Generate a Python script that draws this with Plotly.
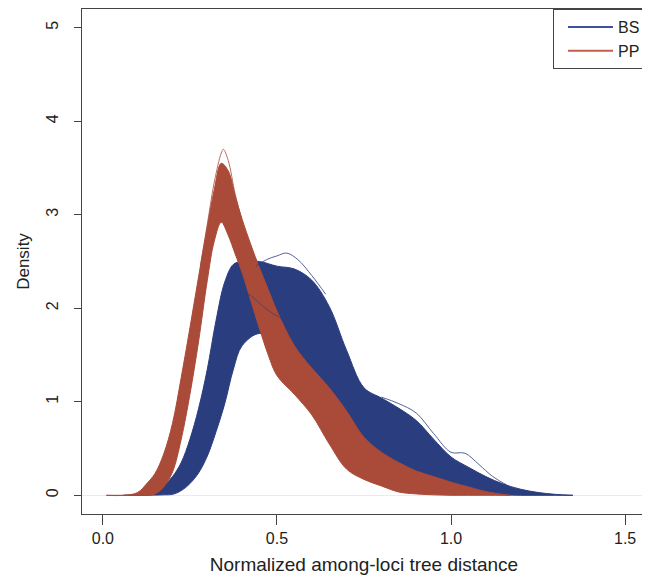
import plotly.graph_objects as go

# ---- data ----
# PP (posterior predictive) density band: lower / upper envelopes of the many curves
pp_x = [0.01, 0.06, 0.10, 0.126, 0.15, 0.175, 0.20, 0.225, 0.25, 0.275, 0.30, 0.32, 0.34,
        0.36, 0.38, 0.40, 0.425, 0.45, 0.475, 0.50, 0.55, 0.60, 0.65, 0.70, 0.75, 0.80,
        0.85, 0.90, 0.95, 1.00, 1.05, 1.10, 1.17]
pp_upper = [0.0, 0.0, 0.03, 0.125, 0.235, 0.445, 0.77, 1.26, 1.79, 2.34, 2.87, 3.27, 3.55,
            3.47, 3.2, 2.95, 2.68, 2.43, 2.2, 1.97, 1.6, 1.36, 1.15, 0.9, 0.62, 0.46,
            0.35, 0.26, 0.2, 0.14, 0.09, 0.04, 0.0]
pp_lower = [0.0, 0.0, 0.0, 0.0, 0.015, 0.09, 0.25, 0.6, 1.08, 1.65, 2.3, 2.72, 2.92,
            2.78, 2.58, 2.38, 2.08, 1.78, 1.5, 1.28, 1.08, 0.86, 0.55, 0.28, 0.17, 0.10,
            0.035, 0.015, 0.005, 0.0, 0.0, 0.0, 0.0]
# single PP curve that peaks above the band
pp_peak_x = [0.28, 0.30, 0.32, 0.34, 0.346, 0.36, 0.38, 0.40]
pp_peak_y = [2.45, 2.9, 3.35, 3.66, 3.70, 3.58, 3.22, 2.93]

# BS (bootstrap) density band
bs_x = [0.06, 0.12, 0.15, 0.175, 0.20, 0.225, 0.25, 0.275, 0.30, 0.325, 0.35, 0.375, 0.40,
        0.45, 0.50, 0.55, 0.60, 0.65, 0.70, 0.75, 0.80, 0.85, 0.90, 0.95, 1.00, 1.05,
        1.10, 1.15, 1.20, 1.25, 1.30, 1.35]
bs_upper = [0.0, 0.005, 0.02, 0.1, 0.2, 0.35, 0.6, 0.93, 1.35, 1.87, 2.28, 2.47, 2.5,
            2.5, 2.45, 2.42, 2.3, 2.02, 1.55, 1.15, 1.04, 0.93, 0.8, 0.6, 0.41, 0.3,
            0.2, 0.12, 0.065, 0.03, 0.01, 0.0]
bs_lower = [0.0, 0.0, 0.002, 0.005, 0.01, 0.05, 0.125, 0.24, 0.42, 0.68, 0.98, 1.35, 1.6,
            1.73, 1.62, 1.4, 1.1, 0.85, 0.6, 0.42, 0.3, 0.2, 0.13, 0.08, 0.05, 0.03,
            0.015, 0.005, 0.0, 0.0, 0.0, 0.0]
# individual BS curves standing out of the band
bs_peak_x = [0.44, 0.47, 0.50, 0.528, 0.56, 0.60, 0.64]
bs_peak_y = [2.45, 2.52, 2.56, 2.59, 2.52, 2.35, 2.15]
bs_bump_x = [0.80, 0.85, 0.90, 0.95, 1.00, 1.04, 1.08, 1.12, 1.16]
bs_bump_y = [1.05, 0.98, 0.88, 0.66, 0.46, 0.45, 0.33, 0.2, 0.11]
bs_cross_x = [0.40, 0.43, 0.46, 0.49, 0.52]
bs_cross_y = [2.2, 2.12, 2.02, 1.94, 1.88]

x_ticks = [0.0, 0.5, 1.0, 1.5]
x_tick_labels = ["0.0", "0.5", "1.0", "1.5"]
y_ticks = [0, 1, 2, 3, 4, 5]

BLUE = "#293D7F"
RED = "#AA4A38"
FONT = "Liberation Sans, Arial, sans-serif"

fig = go.Figure()

def band(x, lo, hi, color):
    fig.add_trace(go.Scatter(x=x, y=lo, mode="lines", line=dict(color=color, width=1, shape="spline"),
                             showlegend=False, hoverinfo="skip"))
    fig.add_trace(go.Scatter(x=x, y=hi, mode="lines", line=dict(color=color, width=1, shape="spline"),
                             fill="tonexty", fillcolor=color, showlegend=False, hoverinfo="skip"))

band(bs_x, bs_lower, bs_upper, BLUE)
band(pp_x, pp_lower, pp_upper, RED)

line_style = dict(width=1, shape="spline")
fig.add_trace(go.Scatter(x=bs_cross_x, y=bs_cross_y, mode="lines", opacity=0.6,
                         line=dict(color=BLUE, **line_style), showlegend=False, hoverinfo="skip"))
fig.add_trace(go.Scatter(x=bs_peak_x, y=bs_peak_y, mode="lines", opacity=0.8,
                         line=dict(color=BLUE, **line_style), showlegend=False, hoverinfo="skip"))
fig.add_trace(go.Scatter(x=bs_bump_x, y=bs_bump_y, mode="lines", opacity=0.8,
                         line=dict(color=BLUE, **line_style), showlegend=False, hoverinfo="skip"))
fig.add_trace(go.Scatter(x=pp_peak_x, y=pp_peak_y, mode="lines", opacity=0.8,
                         line=dict(color=RED, **line_style), showlegend=False, hoverinfo="skip"))

# legend entries
fig.add_trace(go.Scatter(x=[None], y=[None], mode="lines", name="BS",
                         line=dict(color="#3C52A0", width=2)))
fig.add_trace(go.Scatter(x=[None], y=[None], mode="lines", name="PP",
                         line=dict(color="#C0604C", width=2)))

axis_common = dict(showline=True, linecolor="#444444", linewidth=1, mirror=True,
                   showgrid=False, ticks="outside", tickcolor="#444444",
                   tickfont=dict(family=FONT, size=16, color="#222222"),
                   automargin=False)

# page body has an 8px margin, so the figure is 16px smaller than the window
fig.update_layout(
    width=642, height=569,
    margin=dict(l=74, r=4, t=1, b=63),
    paper_bgcolor="white", plot_bgcolor="white",
    font=dict(family=FONT, color="#222222"),
    xaxis=dict(range=[-0.06, 1.56], tickvals=x_ticks, ticktext=x_tick_labels,
               ticklen=10, zeroline=False,
               title=dict(text="Normalized among-loci tree distance",
                          font=dict(family=FONT, size=19, color="#222222"), standoff=11),
               **axis_common),
    yaxis=dict(range=[-0.2, 5.2], tickvals=y_ticks, ticklen=7, tickangle=-90,
               ticklabelstandoff=10,
               zeroline=True, zerolinecolor="#EBEBEB", zerolinewidth=1,
               title=dict(text="Density", font=dict(family=FONT, size=17, color="#222222"),
                          standoff=9),
               **axis_common),
    legend=dict(x=1, y=1, xanchor="right", yanchor="top", traceorder="normal",
                bgcolor="white", bordercolor="#444444", borderwidth=1,
                font=dict(family=FONT, size=16, color="#222222"),
                indentation=9, itemwidth=45, tracegroupgap=0),
)

fig.write_html("out.html")
